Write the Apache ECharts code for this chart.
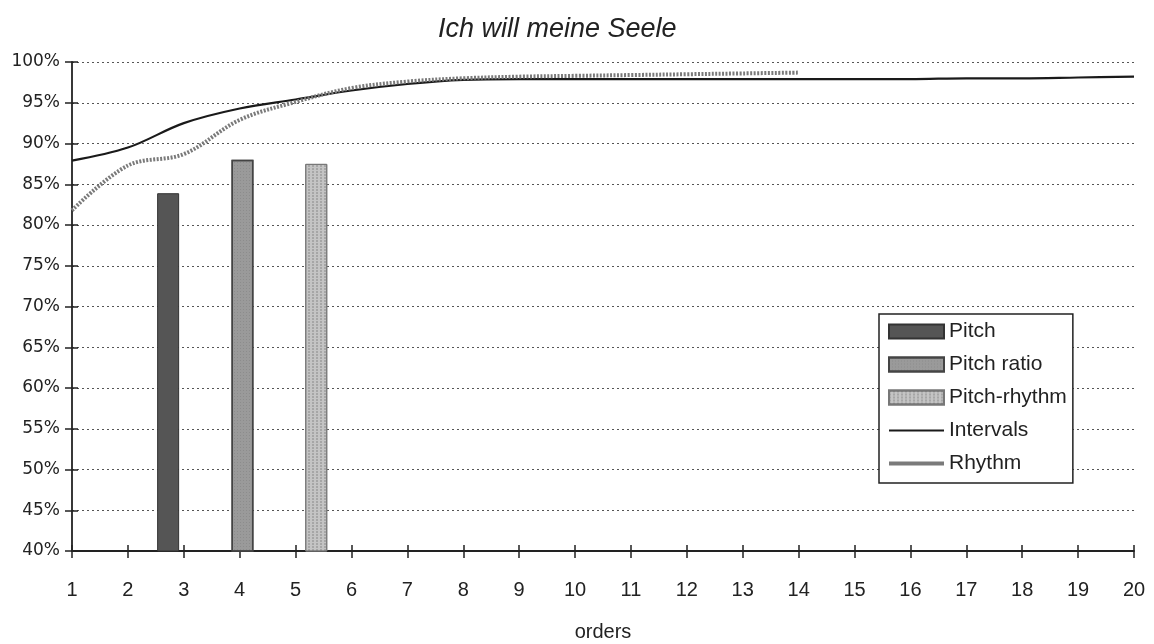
<!DOCTYPE html>
<html>
<head>
<meta charset="utf-8">
<script src="https://cdn.jsdelivr.net/npm/echarts@6/dist/echarts.min.js"></script>
<style>
  html, body { margin: 0; padding: 0; background: #fff; }
  #chart { width: 1154px; height: 644px; }
</style>
</head>
<body>
<div id="chart"></div>
<script>
// orders on the x axis
const orders = [1, 2, 3, 4, 5, 6, 7, 8, 9, 10, 11, 12, 13, 14, 15, 16, 17, 18, 19, 20]
// line values (%)
const intervals = [87.9, 89.5, 92.5, 94.3, 95.4, 96.5, 97.3, 97.8, 97.9, 97.9, 97.9, 97.9, 97.9, 97.9, 97.9, 97.9, 98.0, 98.0, 98.1, 98.2]
const rhythm = [81.8, 87.3, 88.7, 92.9, 95.1, 96.8, 97.6, 98.0, 98.2, 98.3, 98.4, 98.5, 98.6, 98.7]
// bars: [position on orders axis, value %]
const pitch = [[2.72, 83.9]]
const pitchRatio = [[4.05, 88.0]]
const pitchRhythm = [[5.37, 87.5]]

const font = 'Liberation Sans, Arial, sans-serif'
const ink = '#222'
const chart = echarts.init(document.getElementById('chart'))

// ticks in the picture cross the axis line, so a second axis draws the inner half
const xBase = { type: 'value', min: 1, max: 20, interval: 1, position: 'bottom' }
const yBase = { type: 'value', min: 40, max: 100, interval: 5, position: 'left' }

chart.setOption({
  animation: false,
  backgroundColor: '#fff',
  textStyle: { fontFamily: font },
  title: {
    text: 'Ich will meine Seele',
    left: 433,
    top: 11,
    textStyle: { fontSize: 27, fontStyle: 'italic', fontWeight: 'normal', color: ink, fontFamily: font }
  },
  grid: { left: 72, right: 20, top: 62, bottom: 93, outerBoundsMode: 'none' },
  legend: {
    orient: 'vertical',
    left: 879,
    top: 314,
    padding: [7, 6, 9, 9],
    itemGap: 12,
    itemWidth: 55,
    itemHeight: 14,
    backgroundColor: '#fff',
    borderColor: ink,
    borderWidth: 1.5,
    textStyle: { fontSize: 21, color: ink, fontFamily: font },
    data: [
      { name: 'Pitch', icon: 'rect' },
      { name: 'Pitch ratio', icon: 'rect' },
      { name: 'Pitch-rhythm', icon: 'rect' },
      { name: 'Intervals', icon: 'path://M0,0 L55,0 L55,2 L0,2 Z' },
      { name: 'Rhythm', icon: 'path://M0,0 L55,0 L55,4 L0,4 Z' }
    ]
  },
  xAxis: [
    Object.assign({}, xBase, {
      name: 'orders',
      nameLocation: 'middle',
      nameGap: 71,
      nameTextStyle: { fontSize: 20, color: ink, fontFamily: font },
      axisLine: { lineStyle: { color: ink, width: 1.8 } },
      axisTick: { show: true, length: 7, lineStyle: { color: ink, width: 1.5 } },
      axisLabel: { fontSize: 20, color: ink, margin: 29, fontFamily: font },
      splitLine: { show: false }
    }),
    Object.assign({}, xBase, {
      axisLine: { show: false },
      axisTick: { show: true, inside: true, length: 6, lineStyle: { color: ink, width: 1.5 } },
      axisLabel: { show: false },
      splitLine: { show: false }
    })
  ],
  yAxis: [
    Object.assign({}, yBase, {
      axisLine: { show: true, lineStyle: { color: ink, width: 1.8 } },
      axisTick: { show: true, length: 7, lineStyle: { color: ink, width: 1.5 } },
      axisLabel: { fontSize: 17, color: ink, margin: 12, formatter: '{value}%', fontFamily: 'DejaVu Sans, sans-serif' },
      splitLine: { lineStyle: { color: '#555', type: [2, 3], width: 1 } }
    }),
    Object.assign({}, yBase, {
      axisLine: { show: false },
      axisTick: { show: true, inside: true, length: 6, lineStyle: { color: ink, width: 1.5 } },
      axisLabel: { show: false },
      splitLine: { show: false }
    })
  ],
  series: [
    {
      name: 'Pitch',
      type: 'bar',
      barWidth: 22,
      barGap: '-100%',
      data: pitch,
      itemStyle: { color: '#555', borderColor: '#333', borderWidth: 1 }
    },
    {
      name: 'Pitch ratio',
      type: 'bar',
      barWidth: 22,
      barGap: '-100%',
      data: pitchRatio,
      itemStyle: {
        color: '#9a9a9a',
        borderColor: '#444',
        borderWidth: 1.5,
        decal: { symbol: 'rect', symbolSize: 0.5, color: 'rgba(40,40,40,0.45)', dashArrayX: [1, 2], dashArrayY: [1, 2], rotation: 0 }
      }
    },
    {
      name: 'Pitch-rhythm',
      type: 'bar',
      barWidth: 22,
      barGap: '-100%',
      data: pitchRhythm,
      itemStyle: {
        color: '#c4c4c4',
        borderColor: '#777',
        borderWidth: 1,
        decal: { symbol: 'circle', symbolSize: 0.8, color: 'rgba(60,60,60,0.5)', dashArrayX: [2, 2], dashArrayY: [2, 1], rotation: 0 }
      }
    },
    {
      name: 'Intervals',
      type: 'line',
      smooth: 0.35,
      symbol: 'none',
      data: orders.map((o, i) => [o, intervals[i]]),
      lineStyle: { color: '#1a1a1a', width: 2.2 },
      itemStyle: { color: '#1a1a1a' }
    },
    {
      name: 'Rhythm',
      type: 'line',
      smooth: 0.35,
      symbol: 'none',
      data: rhythm.map((v, i) => [orders[i], v]),
      lineStyle: { color: '#7a7a7a', width: 4, type: [2, 1.5] },
      itemStyle: { color: '#7a7a7a' }
    }
  ]
})
</script>
</body>
</html>
